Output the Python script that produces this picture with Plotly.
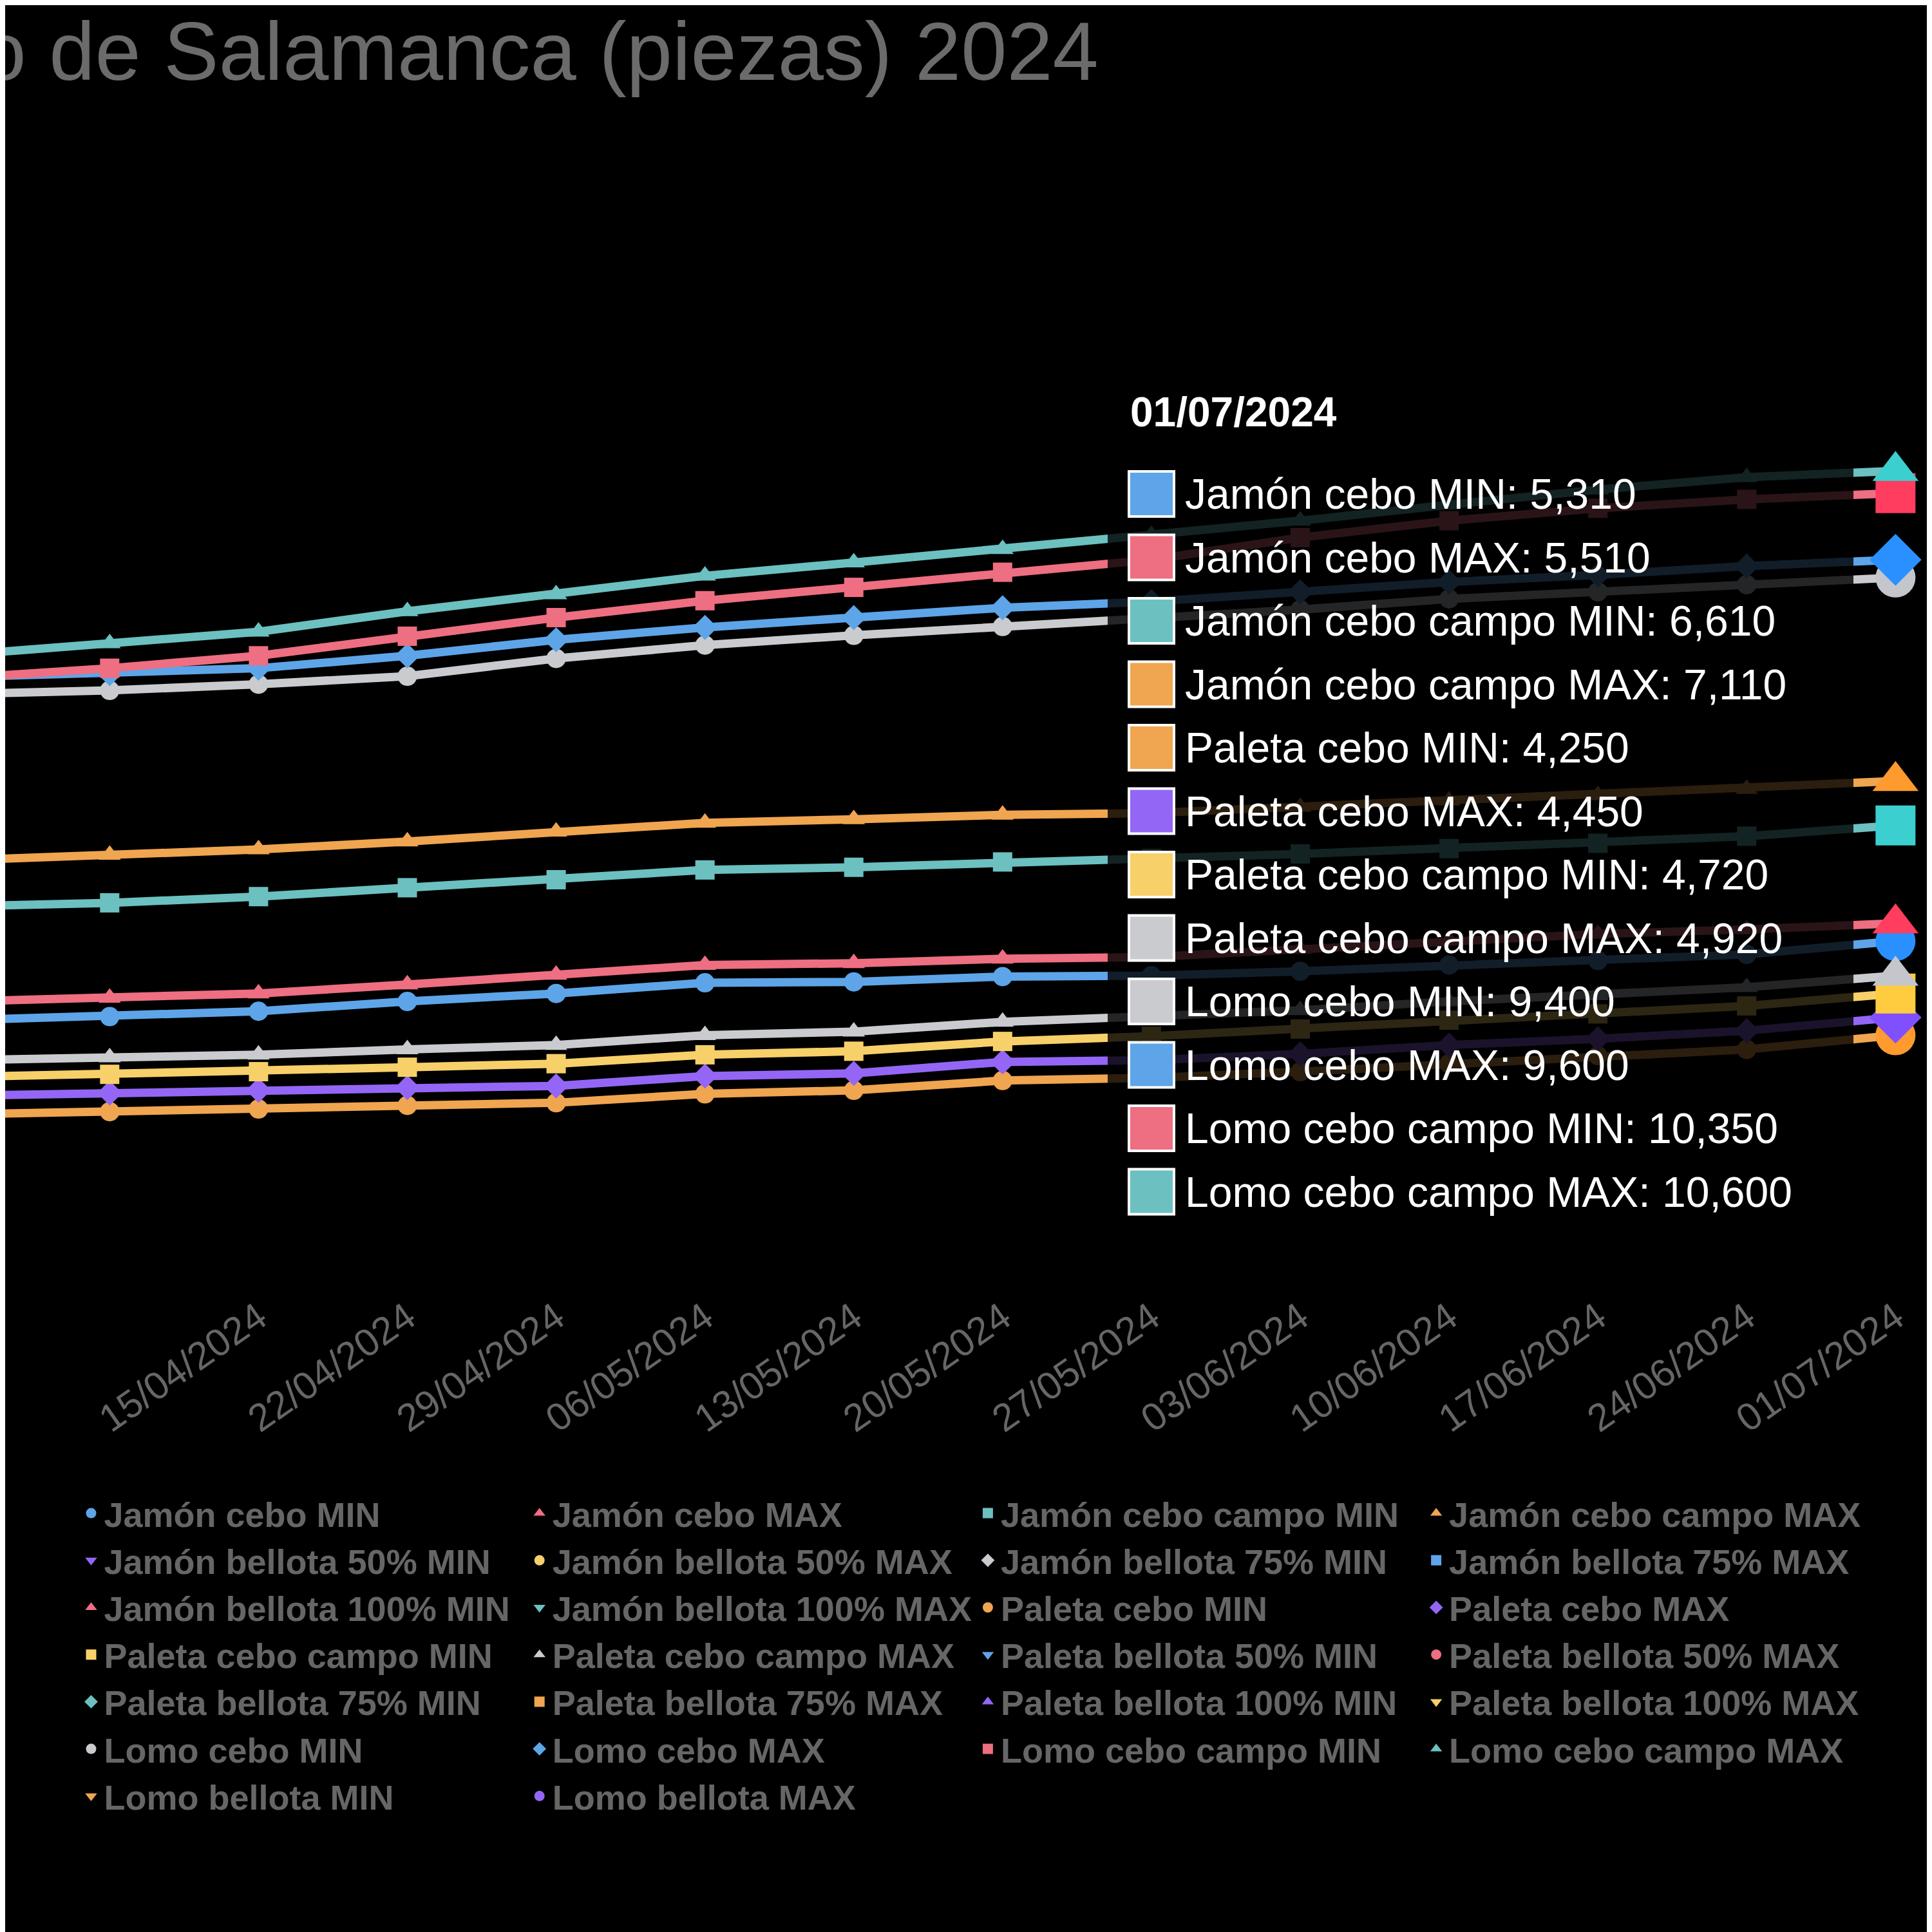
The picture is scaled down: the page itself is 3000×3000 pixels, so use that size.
import plotly.graph_objects as go

dates = ["2024-04-01","2024-04-08","2024-04-15","2024-04-22","2024-04-29","2024-05-06","2024-05-13",
         "2024-05-20","2024-05-27","2024-06-03","2024-06-10","2024-06-17","2024-06-24","2024-07-01"]
jamon_cebo_min = [4.42,4.46,4.52,4.63,4.72,4.84,4.85,4.91,4.92,4.97,5.04,5.09,5.16,5.31]
jamon_cebo_max = [4.63,4.67,4.72,4.82,4.93,5.04,5.06,5.11,5.13,5.22,5.32,5.39,5.44,5.51]
jamon_campo_min = [5.70,5.74,5.81,5.91,6.00,6.11,6.14,6.20,6.24,6.29,6.35,6.41,6.49,6.61]
jamon_campo_max = [6.22,6.28,6.34,6.43,6.54,6.64,6.68,6.73,6.75,6.82,6.89,6.95,7.02,7.11]
paleta_cebo_min = [3.36,3.39,3.42,3.46,3.49,3.59,3.63,3.74,3.77,3.84,3.93,4.02,4.09,4.25]
paleta_cebo_max = [3.57,3.60,3.63,3.66,3.68,3.79,3.82,3.95,3.97,4.04,4.14,4.21,4.30,4.45]
paleta_campo_min = [3.78,3.81,3.84,3.89,3.93,4.03,4.07,4.18,4.24,4.32,4.42,4.49,4.58,4.72]
paleta_campo_max = [3.97,4.00,4.03,4.09,4.14,4.25,4.29,4.40,4.46,4.53,4.63,4.70,4.79,4.92]
lomo_cebo_min = [8.09,8.13,8.20,8.29,8.49,8.64,8.75,8.85,8.93,9.04,9.16,9.24,9.32,9.40]
lomo_cebo_max = [8.28,8.32,8.38,8.52,8.70,8.84,8.95,9.06,9.13,9.24,9.35,9.43,9.53,9.60]
lomo_campo_min = [8.27,8.38,8.52,8.74,8.95,9.14,9.29,9.46,9.60,9.85,10.04,10.18,10.28,10.35]
lomo_campo_max = [8.53,8.66,8.79,9.02,9.21,9.42,9.57,9.72,9.88,10.04,10.22,10.39,10.53,10.60]

series_names = ["Jamón cebo MIN","Jamón cebo MAX","Jamón cebo campo MIN","Jamón cebo campo MAX",
    "Jamón bellota 50% MIN","Jamón bellota 50% MAX","Jamón bellota 75% MIN","Jamón bellota 75% MAX",
    "Jamón bellota 100% MIN","Jamón bellota 100% MAX","Paleta cebo MIN","Paleta cebo MAX",
    "Paleta cebo campo MIN","Paleta cebo campo MAX","Paleta bellota 50% MIN","Paleta bellota 50% MAX",
    "Paleta bellota 75% MIN","Paleta bellota 75% MAX","Paleta bellota 100% MIN","Paleta bellota 100% MAX",
    "Lomo cebo MIN","Lomo cebo MAX","Lomo cebo campo MIN","Lomo cebo campo MAX",
    "Lomo bellota MIN","Lomo bellota MAX"]
values = {
    "Jamón cebo MIN": jamon_cebo_min, "Jamón cebo MAX": jamon_cebo_max,
    "Jamón cebo campo MIN": jamon_campo_min, "Jamón cebo campo MAX": jamon_campo_max,
    "Paleta cebo MIN": paleta_cebo_min, "Paleta cebo MAX": paleta_cebo_max,
    "Paleta cebo campo MIN": paleta_campo_min, "Paleta cebo campo MAX": paleta_campo_max,
    "Lomo cebo MIN": lomo_cebo_min, "Lomo cebo MAX": lomo_cebo_max,
    "Lomo cebo campo MIN": lomo_campo_min, "Lomo cebo campo MAX": lomo_campo_max,
}
tip_names = ["Jamón cebo MIN","Jamón cebo MAX","Jamón cebo campo MIN","Jamón cebo campo MAX",
             "Paleta cebo MIN","Paleta cebo MAX","Paleta cebo campo MIN","Paleta cebo campo MAX",
             "Lomo cebo MIN","Lomo cebo MAX","Lomo cebo campo MIN","Lomo cebo campo MAX"]

palette = ["#5DA5E8","#EE6E82","#6CC0C0","#F0A550","#9466F5","#F7D06A","#C9CBCF"]
bright = ["#2A90FF","#FF3D5E","#3CCFCF","#FF9A2E","#8050FF","#FFCC40","#C4C6CC"]
symbols = ["circle","triangle-up","square","triangle-up","triangle-down","circle","diamond","square",
           "triangle-up","triangle-down","circle","diamond","square","triangle-up","triangle-down","circle",
           "diamond","square","triangle-up","triangle-down","circle","diamond","square","triangle-up",
           "triangle-down","circle"]

fig = go.Figure()
for i, name in enumerate(series_names):
    col = palette[i % 7]
    if name in values:
        y = values[name]
        n = len(y)
        fig.add_trace(go.Scatter(x=dates, y=y, name=name, mode="lines+markers", showlegend=False,
            line=dict(color=col, width=13),
            marker=dict(symbol=symbols[i], size=[30]*(n-1)+[62], color=[col]*(n-1)+[bright[i % 7]],
                        line=dict(width=0), opacity=1)))
    fig.add_trace(go.Scatter(x=[dates[0]], y=[None], name=name, mode="markers", showlegend=True,
                             marker=dict(symbol=symbols[i], size=40, color=col)))

H_TOP, H_BOT = 250, 1990
def py(p): return (H_BOT - p) / (H_BOT - H_TOP)
def px(p): return p / 3000

shapes = [dict(type="rect", xref="paper", yref="paper", x0=px(1712), x1=px(2870), y0=py(1910), y1=py(575),
               fillcolor="rgba(0,0,0,0.82)", line=dict(width=0), layer="above")]
annotations = [dict(text="Precios del Mercado de Salamanca (piezas) 2024", xref="paper", yref="paper",
                    x=px(1700), y=py(71), xanchor="right", yanchor="middle", showarrow=False,
                    font=dict(size=128, color="#6b6b6b"))]
annotations.append(dict(text="<b>01/07/2024</b>", xref="paper", yref="paper", x=px(1745), y=py(632),
                        xanchor="left", yanchor="middle", showarrow=False, font=dict(size=64, color="white")))
tip_colors = ["#5DA5E8","#EE6E82","#6CC0C0","#F0A550","#F0A550","#9466F5","#F7D06A","#C9CBCF",
              "#C9CBCF","#5DA5E8","#EE6E82","#6CC0C0"]
for j, nm in enumerate(tip_names):
    cy = 759 + 98.5 * j
    shapes.append(dict(type="rect", xref="paper", yref="paper", x0=px(1745), x1=px(1815),
                       y0=py(cy + 35), y1=py(cy - 35), fillcolor=tip_colors[j],
                       line=dict(color="white", width=4), layer="above"))
    val = f"{values[nm][-1]:.3f}".replace(".", ",")
    annotations.append(dict(text=f"{nm}: {val}", xref="paper", yref="paper", x=px(1830), y=py(cy),
                            xanchor="left", yanchor="middle", showarrow=False,
                            font=dict(size=66, color="white")))

fig.update_layout(
    width=3000, height=3000, paper_bgcolor="black", plot_bgcolor="black",
    margin=dict(l=0, r=0, t=H_TOP, b=3000 - H_BOT, autoexpand=False),
    font=dict(family="Liberation Sans, Arial, sans-serif"),
    showlegend=True,
    legend=dict(orientation="h", x=0.5, xanchor="center", y=py(2300), yanchor="top",
                font=dict(size=54, color="#666666", weight="bold"), bgcolor="rgba(0,0,0,0)",
                itemsizing="trace", tracegroupgap=0),
    shapes=shapes, annotations=annotations,
)
fig.update_xaxes(type="date", range=["2024-04-03 02:00", "2024-07-02 23:00"], tick0="2024-04-01",
                 dtick=7*24*3600*1000, tickformat="%d/%m/%Y", tickangle=-35, showgrid=False,
                 zeroline=False, showline=False, tickfont=dict(size=60, color="#666666"), ticks="")
fig.update_yaxes(range=[1.42, 14.03], showgrid=False, zeroline=False, showticklabels=False)
fig.write_html("out.html")
